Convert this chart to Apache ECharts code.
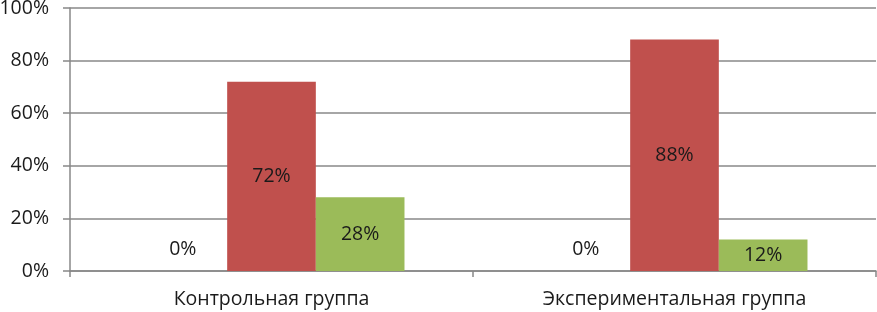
<!DOCTYPE html>
<html>
<head>
<meta charset="utf-8">
<script src="https://cdn.jsdelivr.net/npm/echarts@6/dist/echarts.min.js"></script>
<style>html,body{margin:0;padding:0;background:#fff}#c{width:877px;height:312px}</style>
</head>
<body>
<div id="c"></div>
<script>
const categories = ["Контрольная группа", "Экспериментальная группа"];
const series1 = [0, 0];
const series2 = [72, 88];
const series3 = [28, 12];
const yTicks = [0, 20, 40, 60, 80, 100];

const font = "'Open Sans', 'Noto Sans', sans-serif";
const fs = 19.5;
const chart = echarts.init(document.getElementById('c'), null, {renderer: 'canvas'});
const lbl = {show: true, position: 'inside', color: '#1a1a1a', fontSize: fs, fontFamily: font, formatter: p => p.value + '%'};
chart.setOption({
  animation: false,
  grid: {left: 70, right: 1, top: 8, bottom: 41, containLabel: false, outerBoundsMode: 'none'},
  xAxis: {
    type: 'category', data: categories,
    axisLine: {lineStyle: {color: '#888', width: 1.5}},
    axisTick: {show: true, length: 6, inside: false, lineStyle: {color: '#888', width: 1.5}},
    axisLabel: {color: '#1a1a1a', fontSize: fs, fontFamily: font, margin: 18}
  },
  yAxis: {
    type: 'value', min: 0, max: 100, interval: 20,
    axisLine: {show: true, lineStyle: {color: '#888', width: 1.5}},
    axisTick: {show: true, length: 7, lineStyle: {color: '#888', width: 1.5}},
    splitLine: {lineStyle: {color: '#888', width: 1.5}},
    axisLabel: {color: '#1a1a1a', fontSize: fs, fontFamily: font, margin: 21,
      formatter: v => yTicks.includes(v) ? v + '%' : ''}
  },
  series: [
    {type: 'bar', data: series1, barGap: '0%', barCategoryGap: '34%', itemStyle: {color: '#4F81BD'},
      label: Object.assign({}, lbl, {position: 'top', distance: 12})},
    {type: 'bar', data: series2, barGap: '0%', barCategoryGap: '34%', itemStyle: {color: '#C0504D'}, label: lbl},
    {type: 'bar', data: series3, barGap: '0%', barCategoryGap: '34%', itemStyle: {color: '#9BBB59'}, label: lbl}
  ]
});
</script>
</body>
</html>
